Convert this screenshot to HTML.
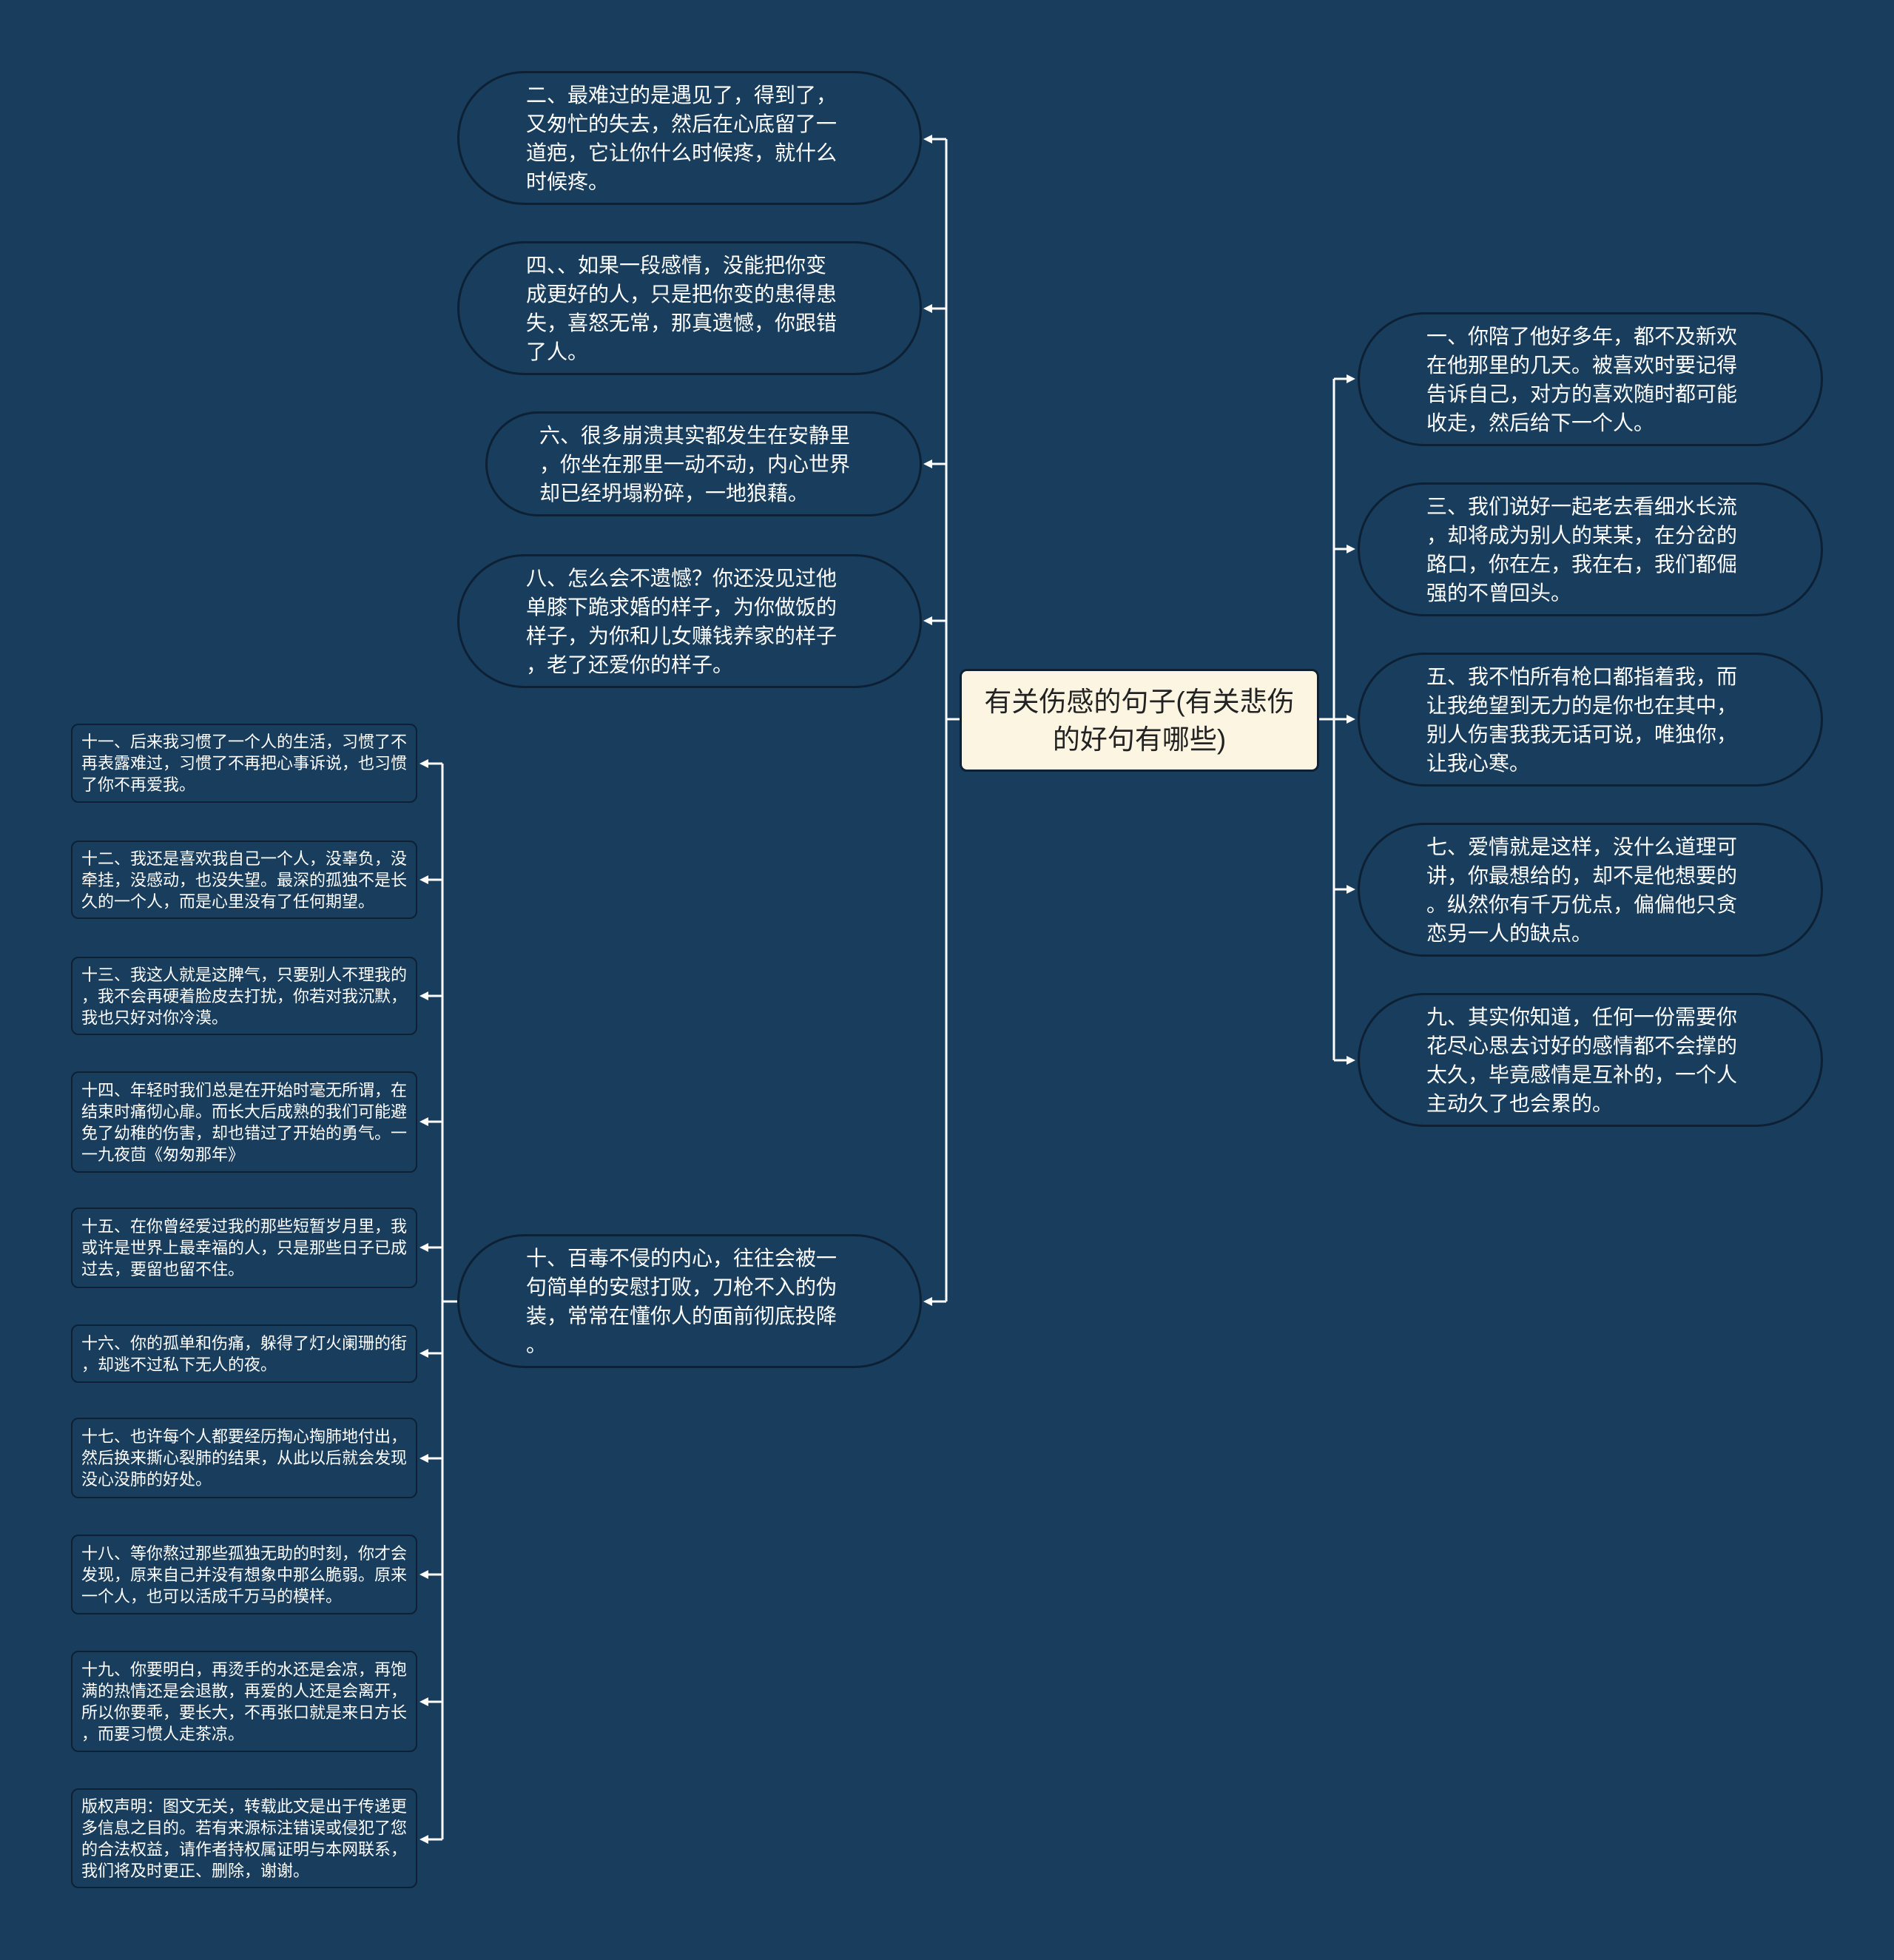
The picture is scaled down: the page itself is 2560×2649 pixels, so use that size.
<!DOCTYPE html>
<html><head><meta charset="utf-8"><style>
body{margin:0;width:2560px;height:2649px;background:#183d5d;position:relative;overflow:hidden;font-family:"Liberation Sans","Noto Sans CJK SC",sans-serif;}
.n{position:absolute;box-sizing:border-box;color:#fff;}
.e{border:3px solid #0d2034;border-radius:9999px;font-size:28px;line-height:39px;display:flex;align-items:center;}
.e div{white-space:nowrap}
.r{border:2px solid #0d2034;border-radius:10px;font-size:22px;line-height:29px;padding-left:12px;display:flex;align-items:center;}
.r div{white-space:nowrap}
svg{position:absolute;left:0;top:0}
</style></head><body>
<svg width="2560" height="2649">
<g stroke="#fff" stroke-width="3" fill="none">
<path d="M1298 972 H1279 M1279 188 V1759"/>
<path d="M1279 188 H1256 M1279 417 H1256 M1279 627 H1256 M1279 839 H1256 M1279 1759 H1256"/>
<path d="M1783 972 H1803 M1803 512 V1433"/>
<path d="M1803 512 H1822 M1803 742 H1822 M1803 972 H1822 M1803 1202 H1822 M1803 1433 H1822"/>
<path d="M618 1759 H598 M598 1032 V2486"/>
<path d="M598 1032 H578 M598 1189 H578 M598 1346 H578 M598 1516 H578 M598 1686 H578 M598 1829 H578 M598 1971 H578 M598 2128 H578 M598 2300 H578 M598 2486 H578"/>
</g>
<g fill="#fff">
<path d="M1248 188 l12 -6 v12z M1248 417 l12 -6 v12z M1248 627 l12 -6 v12z M1248 839 l12 -6 v12z M1248 1759 l12 -6 v12z"/>
<path d="M1832 512 l-12 -6 v12z M1832 742 l-12 -6 v12z M1832 972 l-12 -6 v12z M1832 1202 l-12 -6 v12z M1832 1433 l-12 -6 v12z"/>
<path d="M567 1032 l12 -6 v12z M567 1189 l12 -6 v12z M567 1346 l12 -6 v12z M567 1516 l12 -6 v12z M567 1686 l12 -6 v12z M567 1829 l12 -6 v12z M567 1971 l12 -6 v12z M567 2128 l12 -6 v12z M567 2300 l12 -6 v12z M567 2486 l12 -6 v12z"/>
</g>
</svg>

<div class="n" style="left:1297px;top:904px;width:486px;height:139px;background:#fbf5e2;border:3px solid #0d2034;border-radius:10px;color:#222;font-size:37px;line-height:51px;text-align:center;display:flex;align-items:center;justify-content:center;"><div>有关伤感的句子(有关悲伤<br>的好句有哪些)</div></div>

<div class="n e" style="left:618px;top:96px;width:628px;height:181px;padding-left:90px"><div>二、最难过的是遇见了，得到了，<br>又匆忙的失去，然后在心底留了一<br>道疤，它让你什么时候疼，就什么<br>时候疼。</div></div>
<div class="n e" style="left:618px;top:326px;width:628px;height:181px;padding-left:90px"><div>四、、如果一段感情，没能把你变<br>成更好的人，只是把你变的患得患<br>失，喜怒无常，那真遗憾，你跟错<br>了人。</div></div>
<div class="n e" style="left:656px;top:556px;width:590px;height:142px;padding-left:70px"><div>六、很多崩溃其实都发生在安静里<br>，你坐在那里一动不动，内心世界<br>却已经坍塌粉碎，一地狼藉。</div></div>
<div class="n e" style="left:618px;top:749px;width:628px;height:181px;padding-left:90px"><div>八、怎么会不遗憾？你还没见过他<br>单膝下跪求婚的样子，为你做饭的<br>样子，为你和儿女赚钱养家的样子<br>，老了还爱你的样子。</div></div>
<div class="n e" style="left:618px;top:1668px;width:628px;height:181px;padding-left:90px"><div>十、百毒不侵的内心，往往会被一<br>句简单的安慰打败，刀枪不入的伪<br>装，常常在懂你人的面前彻底投降<br>。</div></div>

<div class="n e" style="left:1835px;top:422px;width:629px;height:181px;padding-left:90px"><div>一、你陪了他好多年，都不及新欢<br>在他那里的几天。被喜欢时要记得<br>告诉自己，对方的喜欢随时都可能<br>收走，然后给下一个人。</div></div>
<div class="n e" style="left:1835px;top:652px;width:629px;height:181px;padding-left:90px"><div>三、我们说好一起老去看细水长流<br>，却将成为别人的某某，在分岔的<br>路口，你在左，我在右，我们都倔<br>强的不曾回头。</div></div>
<div class="n e" style="left:1835px;top:882px;width:629px;height:181px;padding-left:90px"><div>五、我不怕所有枪口都指着我，而<br>让我绝望到无力的是你也在其中，<br>别人伤害我我无话可说，唯独你，<br>让我心寒。</div></div>
<div class="n e" style="left:1835px;top:1112px;width:629px;height:181px;padding-left:90px"><div>七、爱情就是这样，没什么道理可<br>讲，你最想给的，却不是他想要的<br>。纵然你有千万优点，偏偏他只贪<br>恋另一人的缺点。</div></div>
<div class="n e" style="left:1835px;top:1342px;width:629px;height:181px;padding-left:90px"><div>九、其实你知道，任何一份需要你<br>花尽心思去讨好的感情都不会撑的<br>太久，毕竟感情是互补的，一个人<br>主动久了也会累的。</div></div>

<div class="n r" style="left:96px;top:978px;width:468px;height:107px"><div>十一、后来我习惯了一个人的生活，习惯了不<br>再表露难过，习惯了不再把心事诉说，也习惯<br>了你不再爱我。</div></div>
<div class="n r" style="left:96px;top:1136px;width:468px;height:106px"><div>十二、我还是喜欢我自己一个人，没辜负，没<br>牵挂，没感动，也没失望。最深的孤独不是长<br>久的一个人，而是心里没有了任何期望。</div></div>
<div class="n r" style="left:96px;top:1293px;width:468px;height:106px"><div>十三、我这人就是这脾气，只要别人不理我的<br>，我不会再硬着脸皮去打扰，你若对我沉默，<br>我也只好对你冷漠。</div></div>
<div class="n r" style="left:96px;top:1448px;width:468px;height:137px"><div>十四、年轻时我们总是在开始时毫无所谓，在<br>结束时痛彻心扉。而长大后成熟的我们可能避<br>免了幼稚的伤害，却也错过了开始的勇气。一<br>一九夜茴《匆匆那年》</div></div>
<div class="n r" style="left:96px;top:1632px;width:468px;height:109px"><div>十五、在你曾经爱过我的那些短暂岁月里，我<br>或许是世界上最幸福的人，只是那些日子已成<br>过去，要留也留不住。</div></div>
<div class="n r" style="left:96px;top:1790px;width:468px;height:79px"><div>十六、你的孤单和伤痛，躲得了灯火阑珊的街<br>，却逃不过私下无人的夜。</div></div>
<div class="n r" style="left:96px;top:1916px;width:468px;height:109px"><div>十七、也许每个人都要经历掏心掏肺地付出，<br>然后换来撕心裂肺的结果，从此以后就会发现<br>没心没肺的好处。</div></div>
<div class="n r" style="left:96px;top:2074px;width:468px;height:108px"><div>十八、等你熬过那些孤独无助的时刻，你才会<br>发现，原来自己并没有想象中那么脆弱。原来<br>一个人，也可以活成千万马的模样。</div></div>
<div class="n r" style="left:96px;top:2231px;width:468px;height:137px"><div>十九、你要明白，再烫手的水还是会凉，再饱<br>满的热情还是会退散，再爱的人还是会离开，<br>所以你要乖，要长大，不再张口就是来日方长<br>，而要习惯人走茶凉。</div></div>
<div class="n r" style="left:96px;top:2417px;width:468px;height:135px"><div>版权声明：图文无关，转载此文是出于传递更<br>多信息之目的。若有来源标注错误或侵犯了您<br>的合法权益，请作者持权属证明与本网联系，<br>我们将及时更正、删除，谢谢。</div></div>
</body></html>
